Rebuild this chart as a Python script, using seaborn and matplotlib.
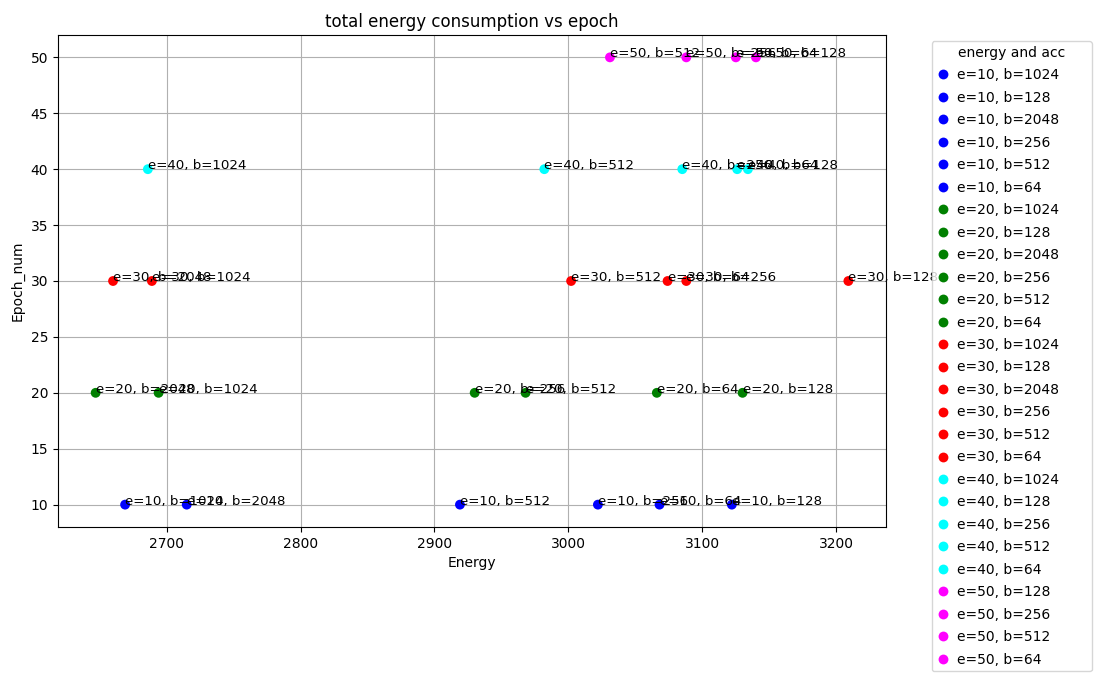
import matplotlib
matplotlib.use("Agg")
import matplotlib.pyplot as plt
import seaborn as sns
import pandas as pd

labels = [
    "e=10, b=1024", "e=10, b=128", "e=10, b=2048", "e=10, b=256", "e=10, b=512", "e=10, b=64",
    "e=20, b=1024", "e=20, b=128", "e=20, b=2048", "e=20, b=256", "e=20, b=512", "e=20, b=64",
    "e=30, b=1024", "e=30, b=128", "e=30, b=2048", "e=30, b=256", "e=30, b=512", "e=30, b=64",
    "e=40, b=1024", "e=40, b=128", "e=40, b=256", "e=40, b=512", "e=40, b=64",
    "e=50, b=128", "e=50, b=256", "e=50, b=512", "e=50, b=64",
]
energy = [
    2669, 3122, 2715, 3022, 2919, 3068,
    2694, 3130, 2647, 2930, 2968, 3066,
    2689, 3209, 2660, 3088, 3002, 3074,
    2686, 3134, 3085, 2982, 3126,
    3140, 3088, 3031, 3125,
]
epochs = [
    10, 10, 10, 10, 10, 10,
    20, 20, 20, 20, 20, 20,
    30, 30, 30, 30, 30, 30,
    40, 40, 40, 40, 40,
    50, 50, 50, 50,
]
epoch_colors = {10: "blue", 20: "green", 30: "red", 40: "cyan", 50: "magenta"}

df = pd.DataFrame({"label": labels, "Energy": energy, "Epoch_num": epochs})
palette = {l: epoch_colors[e] for l, e in zip(labels, epochs)}

fig = plt.figure(figsize=(11.05, 6.79), dpi=100)
ax = fig.add_axes([58 / 1105, 1 - 527 / 679, 828 / 1105, 492 / 679])
sns.scatterplot(data=df, x="Energy", y="Epoch_num", hue="label", palette=palette,
                s=50, edgecolor="none", ax=ax)
for l, x, y in zip(labels, energy, epochs):
    ax.text(x, y, l, fontsize=9.6)
ax.grid(True, color="#b0b0b0", linewidth=0.8)
ax.set_axisbelow(True)
ax.set_title("total energy consumption vs epoch")
ax.set_xlabel("Energy")
ax.set_ylabel("Epoch_num")
ax.legend(title="energy and acc",
          bbox_to_anchor=(1.055, 0.0, 160 / 828, 1.0 - 6 / 492),
          loc="upper left", mode="expand", borderaxespad=0, labelspacing=0.61,
          handlelength=1.0, handletextpad=0.5, borderpad=0.35)
fig.savefig("out.png", dpi=100)
